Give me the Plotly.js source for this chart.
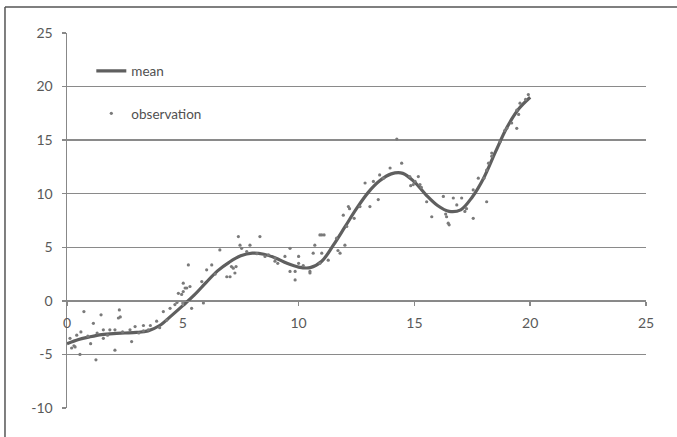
<!DOCTYPE html>
<html>
<head>
<meta charset="utf-8">
<script src="https://cdn.plot.ly/plotly-3.0.1.min.js"></script>
<style>html,body{margin:0;padding:0;background:#fff;}#chart{width:677px;height:437px;}</style>
</head>
<body>
<div id="chart"></div>
<script>
// Mean curve
const meanX = [0,0.5,1,1.5,2,2.5,3,3.5,4,4.5,5,5.5,6,6.5,7,7.5,8,8.5,9,9.5,10,10.5,11,11.5,12,12.5,13,13.5,14,14.5,15,15.5,16,16.5,17,17.5,18,18.5,19,19.5,20];
const meanY = [-4.0,-3.6,-3.35,-3.15,-3.05,-3.0,-2.95,-2.8,-2.3,-1.4,-0.45,0.55,1.7,2.8,3.6,4.2,4.45,4.35,4.0,3.5,3.15,3.1,3.7,5.2,6.9,8.6,10.1,11.2,11.85,11.9,11.1,9.9,8.9,8.35,8.5,9.7,11.5,13.9,16.2,17.9,19.0];

// Observations
const obsX = [0.13,0.2,0.3,0.35,0.42,0.56,0.6,0.73,0.9,1.02,1.14,1.25,1.3,1.47,1.57,1.57,1.75,1.85,2.07,2.07,2.22,2.26,2.3,2.4,2.72,2.79,2.94,3.1,3.3,3.3,3.51,3.6,3.87,4.0,4.16,4.3,4.45,4.66,4.75,4.81,4.95,
 5.0,5.02,5.02,5.1,5.17,5.24,5.31,5.38,5.82,5.89,6.03,6.25,6.4,6.6,6.9,7.04,7.1,7.18,7.25,7.3,7.4,7.47,7.54,7.76,7.9,8.2,8.33,8.55,8.7,8.98,8.98,9.1,9.41,9.63,9.63,9.85,9.85,10.0,10.0,
 10.2,10.49,10.49,10.63,10.7,10.92,11.0,10.92,11.0,11.1,11.28,11.64,11.7,11.79,12.0,12.08,11.93,12.15,12.2,12.4,12.65,13.08,12.87,13.23,13.44,13.5,13.66,13.95,14.24,14.45,14.8,14.95,14.84,
 15.03,15.17,15.24,15.3,15.53,15.75,16.25,16.39,16.46,16.5,16.35,16.68,16.83,17.04,17.18,17.25,17.54,17.54,17.76,18.0,18.12,18.12,18.2,18.34,18.34,18.7,18.9,18.99,19.2,19.42,19.42,19.5,19.56,19.8,19.92];
const obsY = [-3.5,-4.4,-4.2,-4.3,-3.2,-5.0,-2.9,-1.0,-3.3,-4.0,-2.1,-5.5,-3.0,-1.3,-3.5,-2.7,-3.2,-2.7,-4.6,-2.7,-1.6,-0.85,-1.5,-2.9,-2.7,-3.8,-2.4,-3.0,-2.3,-2.8,-2.7,-2.3,-1.9,-2.5,-1.0,-1.8,-0.7,-0.35,-0.15,0.7,0.6,
 -0.2,1.65,0.87,1.2,1.2,3.35,1.34,-0.7,1.8,-0.2,2.9,3.35,2.5,4.75,2.25,2.25,3.2,3.05,2.6,3.2,6.0,5.2,4.9,4.6,5.2,4.4,6.0,4.15,4.3,4.0,3.7,3.5,4.15,4.9,2.75,2.75,1.95,4.15,3.5,
 3.3,2.6,2.75,4.45,5.2,6.15,6.15,3.5,4.45,6.15,3.8,5.85,4.7,4.45,5.2,6.95,8.0,8.8,8.6,7.7,8.8,8.8,11.0,11.15,9.45,11.75,11.45,12.4,15.1,12.85,11.6,10.85,10.75,
 11.15,11.6,10.85,10.6,9.25,7.85,9.75,7.85,7.25,7.1,8.1,9.6,8.95,9.6,8.35,8.6,7.7,10.35,11.45,11.45,12.2,9.25,12.85,13.8,13.5,14.85,15.9,16.1,16.6,16.1,17.8,17.4,18.45,18.8,19.25];

const xTicks = [0,5,10,15,20,25];
const yTicks = [-10,-5,0,5,10,15,20,25];

const traces = [
  {x: meanX, y: meanY, type: 'scatter', mode: 'lines', name: 'mean',
   line: {color: '#5f5f5f', width: 3.2, shape: 'spline', smoothing: 1}, legendgroup: 'a'},
  {x: obsX, y: obsY, type: 'scatter', mode: 'markers', name: 'observation',
   marker: {color: '#7a7a7a', size: 3.2}, legendgroup: 'b'}
];

const tickFont = {family: 'Lato, "Liberation Sans", sans-serif', size: 14, color: '#595959'};

const layout = {
  width: 677, height: 437,
  margin: {l: 67, r: 31, t: 33, b: 29},
  paper_bgcolor: '#ffffff', plot_bgcolor: '#ffffff',
  showlegend: true,
  legend: {x: 0.042, y: 0.94, xanchor: 'left', yanchor: 'top', bgcolor: 'rgba(0,0,0,0)',
           font: {family: 'Lato, "Liberation Sans", sans-serif', size: 13.5, color: '#505050'},
           traceorder: 'grouped', tracegroupgap: 22, itemwidth: 30},
  xaxis: {range: [0, 25], tickvals: xTicks, ticktext: xTicks.map(String), showgrid: false, zeroline: false,
          showline: true, linecolor: '#888888', linewidth: 1.5, ticks: 'outside', ticklen: 4,
          tickcolor: '#888888', tickwidth: 1.5, anchor: 'free', position: 10/35, tickfont: tickFont,
          ticklabelstandoff: 5},
  yaxis: {range: [-10, 25], tickvals: yTicks, ticktext: yTicks.map(String), showgrid: true, gridcolor: '#8a8a8a',
          gridwidth: 1.5, zeroline: false, showline: true, linecolor: '#888888', linewidth: 1.5,
          ticks: 'outside', ticklen: 4, tickcolor: '#888888', tickwidth: 1.5, tickfont: tickFont,
          ticklabelstandoff: 6},
  shapes: [
    {type: 'line', xref: 'paper', yref: 'paper', x0: -0.1071, x1: -0.1071, y0: -0.2, y1: 1.0693,
     line: {color: '#555555', width: 1.5}},
    {type: 'line', xref: 'paper', yref: 'paper', x0: -0.1071, x1: 1.2, y0: 1.0693, y1: 1.0693,
     line: {color: '#555555', width: 1.5}}
  ]
};

Plotly.newPlot('chart', traces, layout, {displayModeBar: false, staticPlot: true});
</script>
</body>
</html>
